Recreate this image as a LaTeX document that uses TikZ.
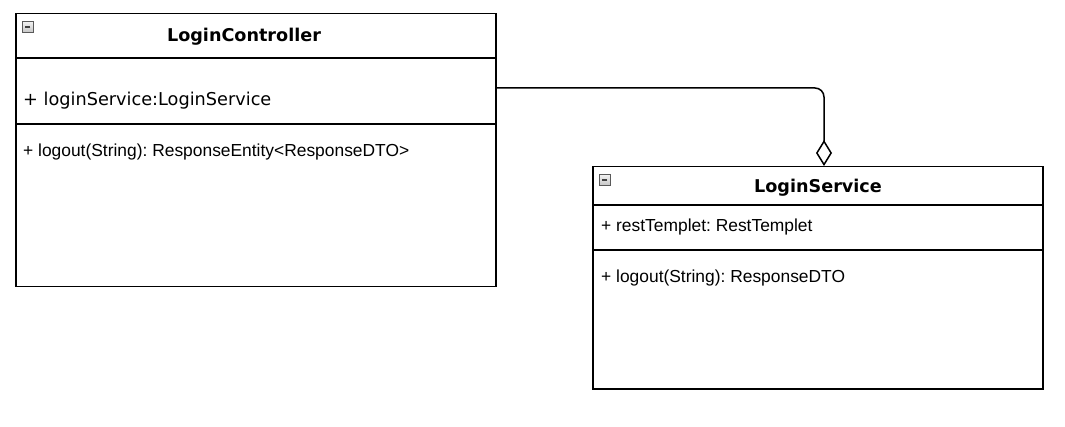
\documentclass[tikz,border=0pt]{standalone}
\usepackage{fontspec}
\setmainfont{Liberation Sans}
\newfontfamily\dejavu{DejaVu Sans}
\usetikzlibrary{arrows.meta}
\begin{document}
\frenchspacing
\begin{tikzpicture}[x=1pt,y=-1pt,
  classbox/.style={draw=black,line width=1.5pt,inner sep=0pt,anchor=north west},
  title/.style={font=\dejavu\bfseries\fontsize{17.6}{20}\selectfont,inner sep=0pt},
  member/.style={font=\fontsize{17.4}{20}\selectfont,inner sep=0pt,anchor=west},
  vmember/.style={font=\dejavu\fontsize{17.7}{20}\selectfont,inner sep=0pt,anchor=west},
  sep/.style={line width=1.5pt},
  icon/.style={draw=gray!70!black,line width=0.8pt,top color=gray!10,bottom color=gray!45,minimum size=11pt,inner sep=0pt,anchor=north west},
  conn/.style={line width=1.5pt,rounded corners=9pt}
]
\useasboundingbox (0,0) rectangle (1065,427);
% LoginController
\node[classbox,minimum width=480pt,minimum height=273pt] (lc) at (15,13) {};
\coordinate (lch) at (15,58);
\coordinate (lca) at (15,124);
\draw[sep] (lch) -- (lch -| lc.east);
\draw[sep] (lca) -- (lca -| lc.east);
\node[icon] (lci) at (22,21) {};
\draw[line width=1.3pt,black!75] ([xshift=2.5pt]lci.center) -- ([xshift=-2.5pt]lci.center);
\node[title] (lct) at (244,37) {LoginController};
\node[vmember] (lcat) at (23,101) {+ loginService:LoginService};
\node[member] (lcm) at (23,152) {+ logout(String): ResponseEntity<ResponseDTO>};
% LoginService
\node[classbox,minimum width=450pt,minimum height=222pt] (ls) at (592,166) {};
\coordinate (lsh) at (592,205);
\coordinate (lsa) at (592,250);
\draw[sep] (lsh) -- (lsh -| ls.east);
\draw[sep] (lsa) -- (lsa -| ls.east);
\node[icon] (lsi) at (599,174) {};
\draw[line width=1.3pt,black!75] ([xshift=2.5pt]lsi.center) -- ([xshift=-2.5pt]lsi.center);
\node[title] (lst) at (818,188) {LoginService};
\node[member] (lsat) at (601,227) {+ restTemplet: RestTemplet};
\node[member] (lsm) at (601,278) {+ logout(String): ResponseDTO};
% aggregation
\coordinate (cs) at (495,88);
\coordinate (cb) at (824,88);
\draw[conn,-{Diamond[open,length=26pt,width=16pt,line width=1.5pt]}] (cs) -- (cb) -- (ls.north -| cb);
\end{tikzpicture}
\end{document}
